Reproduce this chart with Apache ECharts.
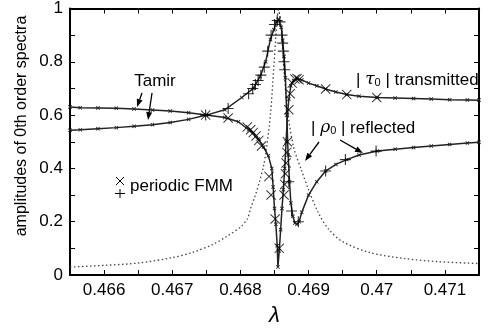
<!DOCTYPE html>
<html>
<head>
<meta charset="utf-8">
<script src="https://cdn.jsdelivr.net/npm/echarts@6/dist/echarts.min.js"></script>
<style>
  html, body { margin: 0; padding: 0; background: #fff; }
  #chart { width: 489px; height: 332px; }
</style>
</head>
<body>
<div id="chart"></div>
<script>
// Tamir curves (wavelength, amplitude)
const tauLam = [0.4655, 0.46565, 0.46591, 0.46618, 0.46644, 0.46671, 0.46697, 0.46724, 0.4675, 0.46777, 0.46797, 0.46812, 0.46826, 0.46834, 0.46841, 0.46846, 0.46848, 0.4685, 0.46852, 0.46854, 0.46855, 0.46857, 0.46859, 0.46861, 0.46863, 0.46865, 0.46867, 0.46869, 0.46871, 0.46874, 0.46878, 0.46883, 0.4689, 0.469, 0.46912, 0.46925, 0.4694, 0.46956, 0.46974, 0.47001, 0.47027, 0.47054, 0.4708, 0.47107, 0.47133, 0.4715];
const tauVal = [0.630, 0.628, 0.627, 0.626, 0.623, 0.619, 0.615, 0.609, 0.600, 0.591, 0.575, 0.545, 0.510, 0.480, 0.447, 0.400, 0.330, 0.250, 0.190, 0.110, 0.030, 0.090, 0.170, 0.250, 0.320, 0.400, 0.500, 0.600, 0.660, 0.710, 0.730, 0.737, 0.732, 0.720, 0.710, 0.698, 0.687, 0.677, 0.671, 0.666, 0.664, 0.662, 0.660, 0.658, 0.657, 0.656];

const rhoLam = [0.4655, 0.46565, 0.46591, 0.46618, 0.46644, 0.46671, 0.46697, 0.46724, 0.4675, 0.46777, 0.46802, 0.46819, 0.46829, 0.46837, 0.46844, 0.46849, 0.46853, 0.46856, 0.4686, 0.46862, 0.46864, 0.46866, 0.46868, 0.4687, 0.46872, 0.46874, 0.46877, 0.4688, 0.46883, 0.46886, 0.4689, 0.469, 0.46912, 0.46925, 0.4694, 0.46956, 0.46974, 0.47001, 0.47027, 0.47054, 0.4708, 0.47107, 0.47133, 0.4715];
const rhoVal = [0.543, 0.545, 0.549, 0.553, 0.558, 0.564, 0.572, 0.584, 0.600, 0.620, 0.666, 0.700, 0.745, 0.800, 0.884, 0.920, 0.950, 0.960, 0.930, 0.880, 0.820, 0.740, 0.600, 0.450, 0.350, 0.270, 0.220, 0.195, 0.190, 0.200, 0.235, 0.300, 0.350, 0.390, 0.415, 0.433, 0.450, 0.465, 0.472, 0.478, 0.484, 0.490, 0.495, 0.498];

// periodic FMM points
const fmmTauLam = [0.46749, 0.46782, 0.46810, 0.46815, 0.46819, 0.46823, 0.46827, 0.46831, 0.46842, 0.46845, 0.46851, 0.46857, 0.46864, 0.46865, 0.46866, 0.46867, 0.46868, 0.46869, 0.46871, 0.46873, 0.46876, 0.46880, 0.46883, 0.46886, 0.46925, 0.46956, 0.47000];
const fmmTauVal = [0.600, 0.589, 0.555, 0.545, 0.535, 0.522, 0.505, 0.484, 0.370, 0.300, 0.210, 0.100, 0.300, 0.340, 0.380, 0.420, 0.460, 0.500, 0.620, 0.680, 0.720, 0.735, 0.737, 0.733, 0.698, 0.677, 0.666];

const fmmRhoLam = [0.46749, 0.46782, 0.46812, 0.46818, 0.46822, 0.46826, 0.46830, 0.46835, 0.46840, 0.46845, 0.46850, 0.46854, 0.46858, 0.46861, 0.46862, 0.46863, 0.46864, 0.46865, 0.46871, 0.46875, 0.46885, 0.46925, 0.46954, 0.46999];
const fmmRhoVal = [0.600, 0.625, 0.680, 0.700, 0.715, 0.730, 0.750, 0.780, 0.840, 0.900, 0.940, 0.955, 0.950, 0.900, 0.870, 0.840, 0.800, 0.770, 0.350, 0.240, 0.200, 0.390, 0.433, 0.465];

// dotted resonance curve
const dotLam = [0.4655, 0.466, 0.4665, 0.467, 0.4673, 0.4676, 0.4678, 0.468, 0.4681, 0.46815, 0.46822, 0.46828, 0.46834, 0.46838, 0.46844, 0.46849, 0.46853, 0.46856, 0.46859, 0.46863, 0.46869, 0.46878, 0.4689, 0.469, 0.46915, 0.4693, 0.4695, 0.4699, 0.4704, 0.4709, 0.4715];
const dotVal = [0.030, 0.036, 0.045, 0.065, 0.085, 0.115, 0.145, 0.180, 0.210, 0.250, 0.300, 0.350, 0.410, 0.470, 0.600, 0.780, 0.930, 0.995, 0.950, 0.800, 0.620, 0.480, 0.390, 0.320, 0.230, 0.170, 0.125, 0.084, 0.062, 0.050, 0.043];

const xMin = 0.4655, xMax = 0.4715, xStep = 0.0005;
const yMin = 0, yMax = 1, yStep = 0.1;

const pairs = (xs, ys) => xs.map((x, i) => [x, ys[i]]);

const crossPath = "path://M0,0.7L0.7,0L5,4.3L9.3,0L10,0.7L5.7,5L10,9.3L9.3,10L5,5.7L0.7,10L0,9.3L4.3,5Z";
const plusPath = "path://M4.5,0H5.5V4.5H10V5.5H5.5V10H4.5V5.5H0V4.5H4.5Z";
const starPath = "path://M0,1.5L1.5,0L5,3.5L8.5,0L10,1.5L6.5,5L10,8.5L8.5,10L5,6.5L1.5,10L0,8.5L3.5,5Z";

const FONT = "Liberation Sans";

function arrow(x1, y1, x2, y2) {
  const a = Math.atan2(y2 - y1, x2 - x1);
  const L = 8, W = 3;
  const bx = x2 - L * Math.cos(a), by = y2 - L * Math.sin(a);
  const px = -Math.sin(a) * W, py = Math.cos(a) * W;
  return [
    { type: "line", shape: { x1: x1, y1: y1, x2: bx, y2: by }, style: { stroke: "#000", lineWidth: 1.3 } },
    { type: "polygon", shape: { points: [[x2, y2], [bx + px, by + py], [bx - px, by - py]] }, style: { fill: "#000" } },
  ];
}

const axisCommon = {
  axisLine: { show: true, onZero: false, lineStyle: { color: "#000", width: 2 } },
  axisTick: { show: true, inside: true, length: 5, lineStyle: { color: "#000", width: 1 } },
  splitLine: { show: false },
};

const option = {
  animation: false,
  backgroundColor: "#fff",
  grid: { left: 70, right: 10, top: 5, bottom: 52 },
  xAxis: [
    Object.assign({
      type: "value", min: xMin, max: xMax, interval: xStep, position: "bottom",
      axisLabel: {
        color: "#000", fontFamily: FONT, fontSize: 17, margin: 7,
        formatter: v => (Math.round(v * 2000) % 2 === 0 ? String(+v.toFixed(3)) : ""),
      },
      name: "λ", nameLocation: "middle", nameGap: 30,
      nameTextStyle: { color: "#000", fontFamily: FONT, fontSize: 22, fontStyle: "italic" },
    }, axisCommon),
    Object.assign({
      type: "value", min: xMin, max: xMax, interval: xStep, position: "top",
      axisLabel: { show: false },
    }, axisCommon),
  ],
  yAxis: [
    Object.assign({
      type: "value", min: yMin, max: yMax, interval: yStep, position: "left",
      axisLabel: {
        color: "#000", fontFamily: FONT, fontSize: 17, margin: 7,
        formatter: v => (Math.round(v * 10) % 2 === 0 ? String(+v.toFixed(1)) : ""),
      },
    }, axisCommon),
    Object.assign({
      type: "value", min: yMin, max: yMax, interval: yStep, position: "right",
      axisLabel: { show: false },
    }, axisCommon),
  ],
  series: [
    {
      type: "line", data: pairs(dotLam, dotVal), showSymbol: false, symbol: "none",
      smooth: 0.3, lineStyle: { color: "#444", width: 1.3, type: [1.5, 2.5] }, z: 1,
    },
    {
      type: "line", data: pairs(tauLam, tauVal), symbol: starPath, symbolSize: 4,
      itemStyle: { color: "#222" }, lineStyle: { color: "#222", width: 1.5 }, z: 3,
    },
    {
      type: "line", data: pairs(rhoLam, rhoVal), symbol: starPath, symbolSize: 4,
      itemStyle: { color: "#222" }, lineStyle: { color: "#222", width: 1.5 }, z: 3,
    },
    {
      type: "scatter", data: pairs(fmmTauLam, fmmTauVal), symbol: crossPath, symbolSize: 10,
      itemStyle: { color: "#000" }, z: 4,
    },
    {
      type: "scatter", data: pairs(fmmRhoLam, fmmRhoVal), symbol: plusPath, symbolSize: 11,
      itemStyle: { color: "#000" }, z: 4,
    },
  ],
  graphic: [
    {
      type: "text", x: 22, y: 126, rotation: Math.PI / 2,
      style: { text: "amplitudes of 0th order spectra", font: "16px " + FONT, fill: "#000", align: "center", verticalAlign: "middle" },
    },
    {
      type: "text", x: 155, y: 81,
      style: { text: "Tamir", font: "17px " + FONT, fill: "#000", align: "center", verticalAlign: "middle" },
    },
    ...arrow(142, 93, 137, 107),
    ...arrow(152, 93, 148, 120),
    {
      type: "text", x: 356, y: 80,
      style: {
        text: "{b|| }{g|τ}{s|0}{b| | transmitted}",
        fill: "#000", verticalAlign: "middle",
        rich: {
          b: { font: "17px " + FONT, fill: "#000" },
          g: { font: "italic 17px 'DejaVu Serif'", fill: "#000" },
          s: { font: "11px " + FONT, fill: "#000", verticalAlign: "bottom", padding: [6, 0, 0, 0] },
        },
      },
    },
    {
      type: "text", x: 311, y: 128,
      style: {
        text: "{b|| }{g|ρ}{s|0}{b| | reflected}",
        fill: "#000", verticalAlign: "middle",
        rich: {
          b: { font: "17px " + FONT, fill: "#000" },
          g: { font: "italic 17px 'DejaVu Serif'", fill: "#000" },
          s: { font: "11px " + FONT, fill: "#000", verticalAlign: "bottom", padding: [6, 0, 0, 0] },
        },
      },
    },
    ...arrow(319, 142, 305, 161),
    ...arrow(340, 140, 363, 153),
    { type: "line", shape: { x1: 116, y1: 177, x2: 124, y2: 185 }, style: { stroke: "#000", lineWidth: 1 } },
    { type: "line", shape: { x1: 116, y1: 185, x2: 124, y2: 177 }, style: { stroke: "#000", lineWidth: 1 } },
    { type: "line", shape: { x1: 115, y1: 193.5, x2: 125, y2: 193.5 }, style: { stroke: "#000", lineWidth: 1 } },
    { type: "line", shape: { x1: 120, y1: 189, x2: 120, y2: 198 }, style: { stroke: "#000", lineWidth: 1 } },
    {
      type: "text", x: 130, y: 186,
      style: { text: "periodic FMM", font: "17px " + FONT, fill: "#000", verticalAlign: "middle" },
    },
  ],
};

const chart = echarts.init(document.getElementById("chart"));
chart.setOption(option);
</script>
</body>
</html>
